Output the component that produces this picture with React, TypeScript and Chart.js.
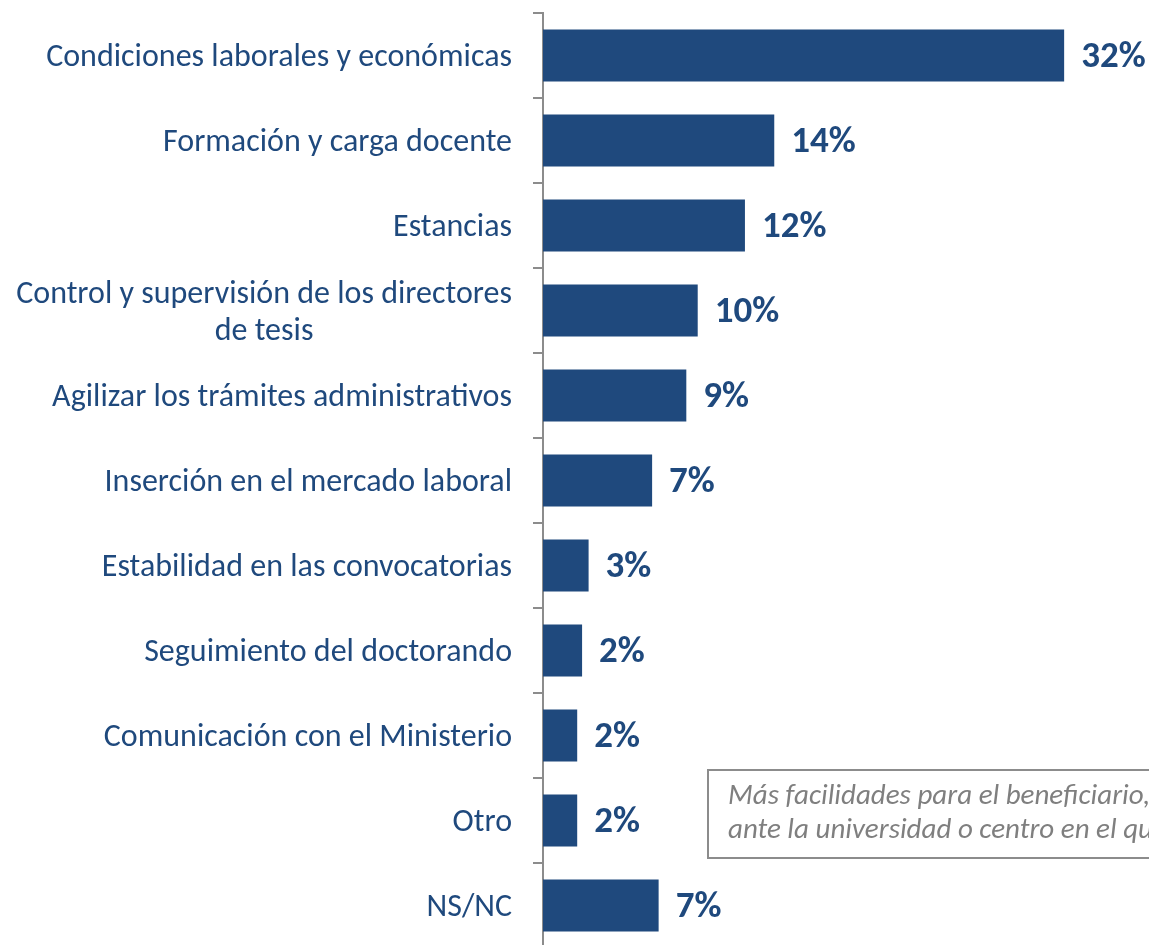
import React, { useEffect, useRef } from "react";
import { Chart, registerables } from "chart.js";

Chart.register(...registerables);

const categories: (string | string[])[] = [
  "Condiciones laborales y económicas",
  "Formación y carga docente",
  "Estancias",
  ["Control y supervisión de los directores", "de tesis"],
  "Agilizar los trámites administrativos",
  "Inserción en el mercado laboral",
  "Estabilidad en las convocatorias",
  "Seguimiento del doctorando",
  "Comunicación con el Ministerio",
  "Otro",
  "NS/NC",
];
const values = [32, 14.2, 12.4, 9.5, 8.8, 6.7, 2.8, 2.4, 2.1, 2.1, 7.1];
const valueLabels = ["32%", "14%", "12%", "10%", "9%", "7%", "3%", "2%", "2%", "2%", "7%"];
const noteLines = ["Más facilidades para el beneficiario,", "ante la universidad o centro en el que"];

const BLUE = "#1F497D";
const FONT = "Carlito, 'Open Sans', sans-serif";

const drawPlugin = {
  id: "customDraw",
  afterDraw(chart: any) {
    const ctx = chart.ctx;
    const y = chart.scales.y;
    const meta = chart.getDatasetMeta(0);
    ctx.save();
    // category labels
    ctx.fillStyle = BLUE;
    ctx.font = `32px ${FONT}`;
    ctx.textBaseline = "alphabetic";
    const right = chart.chartArea.left - 31;
    categories.forEach((lab, i) => {
      const cy = y.getPixelForValue(i);
      const lines = Array.isArray(lab) ? lab : [lab];
      const lh = 37;
      const widths = lines.map((l) => ctx.measureText(l).width);
      const maxW = Math.max(...widths);
      lines.forEach((l, j) => {
        const ly = cy + 10 + (j - (lines.length - 1) / 2) * lh + (lines.length > 1 ? 1 : 0);
        if (lines.length > 1) {
          ctx.textAlign = "center";
          ctx.fillText(l, right - maxW / 2, ly);
        } else {
          ctx.textAlign = "right";
          ctx.fillText(l, right, ly);
        }
      });
    });
    // value labels
    ctx.font = `bold 37px ${FONT}`;
    ctx.textAlign = "left";
    meta.data.forEach((bar: any, i: number) => {
      ctx.fillText(valueLabels[i], bar.x + 17, bar.y + 11);
    });
    // note box
    ctx.strokeStyle = "#8c8c8c";
    ctx.lineWidth = 2;
    ctx.fillStyle = "#ffffff";
    ctx.fillRect(708, 770, 520, 88);
    ctx.strokeRect(708, 770, 520, 88);
    ctx.fillStyle = "#7f7f7f";
    ctx.font = `italic 29px ${FONT}`;
    ctx.textAlign = "left";
    ctx.fillText(noteLines[0], 728, 804);
    ctx.fillText(noteLines[1], 728, 838);
    ctx.restore();
  },
};

export default function App() {
  const ref = useRef<HTMLCanvasElement | null>(null);
  useEffect(() => {
    if (!ref.current) return;
    const chart = new Chart(ref.current, {
      type: "bar",
      data: {
        labels: categories as any,
        datasets: [
          {
            data: values,
            backgroundColor: BLUE,
            borderWidth: 0,
            barPercentage: 0.61,
            categoryPercentage: 1,
          },
        ],
      },
      options: {
        indexAxis: "y",
        animation: false,
        responsive: false,
        devicePixelRatio: 1,
        layout: { padding: { top: 13, bottom: 12, left: 0, right: 36 } },
        plugins: { legend: { display: false }, tooltip: { enabled: false } },
        scales: {
          x: { display: false, min: 0, max: 35 },
          y: {
            position: "left",
            grid: {
              display: true,
              drawOnChartArea: false,
              drawTicks: true,
              tickLength: 10,
              color: "#8c8c8c",
              lineWidth: 2,
              offset: true,
            },
            border: { display: true, color: "#8c8c8c", width: 2 },
            ticks: { display: false },
            afterFit: (s: any) => {
              s.width = 543;
            },
          },
        },
      },
      plugins: [drawPlugin],
    });
    return () => chart.destroy();
  }, []);
  return (
    <div style={{ position: "absolute", left: 0, top: 0, width: 1149, height: 960, overflow: "hidden" }}>
      <canvas ref={ref} width={1149} height={960} style={{ width: 1149, height: 960, display: "block" }} />
    </div>
  );
}
